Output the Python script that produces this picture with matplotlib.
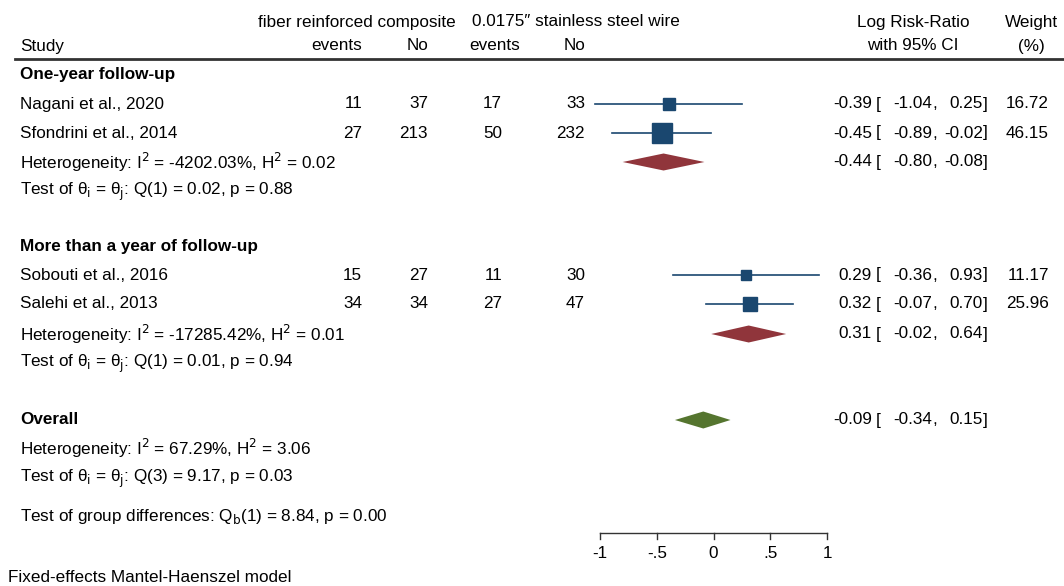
import matplotlib
matplotlib.use("Agg")
import matplotlib.pyplot as plt
from matplotlib.transforms import blended_transform_factory
from matplotlib.patches import Polygon

plt.rcParams['font.family'] = ['Liberation Sans', 'DejaVu Sans']

# study data
studies = ["Nagani et al., 2020", "Sfondrini et al., 2014",
           "Sobouti et al., 2016", "Salehi et al., 2013"]
frc_events = [11, 27, 15, 34]
frc_no = [37, 213, 27, 34]
ssw_events = [17, 50, 11, 27]
ssw_no = [33, 232, 30, 47]
log_rr = [-0.39, -0.45, 0.29, 0.32]
ci_lo = [-1.04, -0.89, -0.36, -0.07]
ci_hi = [0.25, -0.02, 0.93, 0.70]
weights = [16.72, 46.15, 11.17, 25.96]

groups = ["One-year follow-up", "More than a year of follow-up"]
group_est = [-0.44, 0.31]
group_lo = [-0.80, -0.02]
group_hi = [-0.08, 0.64]
group_het = ["Heterogeneity: I$^{2}$ = -4202.03%, H$^{2}$ = 0.02",
             "Heterogeneity: I$^{2}$ = -17285.42%, H$^{2}$ = 0.01"]
group_test = [("1", "0.02", "0.88"), ("1", "0.01", "0.94")]

overall_est = -0.09
overall_lo = -0.34
overall_hi = 0.15

xticks = [-1, -0.5, 0, 0.5, 1]
xticklabels = ["-1", "-.5", "0", ".5", "1"]

W, H = 1064, 586
fig = plt.figure(figsize=(W / 100, H / 100), dpi=100)
ax = fig.add_axes([0, 0, 1, 1])
# x in log risk ratio units: -1 at px 600, 1 at px 827
x0, sc = 713.5, 113.5
ax.set_xlim((0 - x0) / sc, (W - x0) / sc)
ax.set_ylim(H, 0)
ax.axis('off')

tr = blended_transform_factory(ax.transAxes, ax.transData)
fs = 12.3


def txt(px, y, s, ha='left', **kw):
    ax.text(px / W, y, s, transform=tr, ha=ha, va='center', fontsize=fs, **kw)


sq_col = '#1a476f'
grp_col = '#90353b'
ov_col = '#55752f'

# header
txt(357, 22, "fiber reinforced composite", ha='center')
txt(576, 22, "0.0175\u2033 stainless steel wire", ha='center')
txt(20, 46, "Study")
txt(362, 46, "events", ha='right')
txt(428, 46, "No", ha='right')
txt(520, 46, "events", ha='right')
txt(585, 46, "No", ha='right')
txt(913, 22, "Log Risk-Ratio", ha='center')
txt(913, 46, "with 95% CI", ha='center')
txt(1031, 22, "Weight", ha='center')
txt(1031, 46, "(%)", ha='center')
ax.plot([15 / W, 1064 / W], [59, 59], transform=tr, color='#333333', lw=2)


def ci_text(y, est, lo, hi):
    txt(872, y, f"{est:.2f}", ha='right')
    txt(876, y, "[")
    txt(932, y, f"{lo:.2f}", ha='right')
    txt(932, y, ",")
    txt(983, y, f"{hi:.2f}", ha='right')
    txt(983, y, "]")


def diamond(y, est, lo, hi, col, h=8.5):
    ax.add_patch(Polygon([(lo, y), (est, y - h), (hi, y), (est, y + h)],
                         closed=True, color=col, lw=0))


group_rows = [
    dict(title=75, rows=[104, 133], het=162, test=192),
    dict(title=246, rows=[275, 304], het=334, test=364),
]
idx = 0
for g, gr in enumerate(group_rows):
    txt(20, gr['title'], groups[g], fontweight='bold')
    for y in gr['rows']:
        i = idx
        txt(20, y, studies[i])
        txt(362, y, str(frc_events[i]), ha='right')
        txt(428, y, str(frc_no[i]), ha='right')
        txt(502, y, str(ssw_events[i]), ha='right')
        txt(585, y, str(ssw_no[i]), ha='right')
        ax.plot([ci_lo[i], ci_hi[i]], [y, y], color=sq_col, lw=1.2, zorder=2)
        # square area proportional to weight
        ax.plot(log_rr[i], y, marker='s', color=sq_col,
                markersize=2.1 * weights[i] ** 0.5, zorder=3, lw=0)
        ci_text(y, log_rr[i], ci_lo[i], ci_hi[i])
        txt(1049, y, f"{weights[i]:.2f}", ha='right')
        idx += 1
    txt(20, gr['het'], group_het[g])
    diamond(gr['het'], group_est[g], group_lo[g], group_hi[g], grp_col)
    ci_text(gr['het'], group_est[g], group_lo[g], group_hi[g])
    df, q, p = group_test[g]
    txt(20, gr['test'], f"Test of \u03b8$_{{\\rm i}}$ = \u03b8$_{{\\rm j}}$: Q({df}) = {q}, p = {p}")

# overall
txt(20, 420, "Overall", fontweight='bold')
diamond(420, overall_est, overall_lo, overall_hi, ov_col)
ci_text(420, overall_est, overall_lo, overall_hi)
txt(20, 448, "Heterogeneity: I$^{2}$ = 67.29%, H$^{2}$ = 3.06")
txt(20, 479, "Test of \u03b8$_{\\rm i}$ = \u03b8$_{\\rm j}$: Q(3) = 9.17, p = 0.03")
txt(20, 517, "Test of group differences: Q$_{\\rm b}$(1) = 8.84, p = 0.00")

# x axis
ax.plot([xticks[0], xticks[-1]], [533, 533], color='#333333', lw=1)
for t, lab in zip(xticks, xticklabels):
    ax.plot([t, t], [533, 539], color='#333333', lw=1)
    ax.text(t, 553, lab, ha='center', va='center', fontsize=fs)

txt(8, 577, "Fixed-effects Mantel-Haenszel model")

fig.savefig("out.png", dpi=100)
